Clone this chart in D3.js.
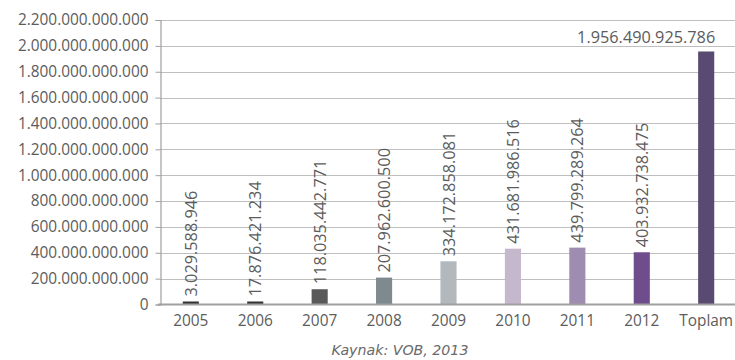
<!DOCTYPE html>
<html>
<head>
<meta charset="utf-8">
<script src="https://cdn.jsdelivr.net/npm/d3@7"></script>
<style>
  html, body { margin: 0; padding: 0; background: #ffffff; }
  svg { display: block; }
</style>
</head>
<body>
<svg id="chart" width="735" height="360"></svg>
<script>
// ---- data ----
const categories = ["2005", "2006", "2007", "2008", "2009", "2010", "2011", "2012", "Toplam"];
const values = [3029588946, 17876421234, 118035442771, 207962600500, 334172858081,
                431681986516, 439799289264, 403932738475, 1956490925786];
const barColors = ["#333333", "#333333", "#595959", "#7f8a8f", "#b2b8bb",
                   "#c6b8cc", "#9e8db1", "#6f4c8c", "#594a72"];
const yTicks = [0, 200e9, 400e9, 600e9, 800e9, 1000e9, 1200e9, 1400e9, 1600e9, 1800e9, 2000e9, 2200e9];
const sourceText = "Kaynak: VOB, 2013";

// ---- setup ----
const svg = d3.select("#chart");
const W = 735;
const font = "'Open Sans', sans-serif";
const textColor = "#5c5c5c";

const locale = d3.formatLocale({ decimal: ",", thousands: ".", grouping: [3], currency: ["", ""] });
const fmt = locale.format(",d");

const x = d3.scaleBand().domain(categories).range([158.6, 738.4]).paddingInner(0.75).paddingOuter(0.375);
const y = d3.scaleLinear().domain([0, 2200e9]).range([304.5, 20]);
const axisX = 160;

// gridlines
svg.append("g").selectAll("line").data(yTicks.filter(d => d > 0)).join("line")
  .attr("x1", axisX).attr("x2", W)
  .attr("y1", d => Math.round(y(d)) + 0.5).attr("y2", d => Math.round(y(d)) + 0.5)
  .attr("stroke", "#bfbfbf").attr("stroke-width", 1.2);

// y axis
const yAxis = d3.axisLeft(y).tickValues(yTicks).tickFormat(d => d === 0 ? "0" : fmt(d)).tickSize(5).tickPadding(7);
const gy = svg.append("g").attr("transform", `translate(${axisX + 0.5},0)`).call(yAxis);
gy.select(".domain").attr("stroke", "#a0a0a0").attr("stroke-width", 1.2);
gy.selectAll(".tick line").attr("stroke", "#a0a0a0");
gy.selectAll(".tick text").attr("fill", textColor).style("font-family", font).style("font-size", "15.4px");

// bars
svg.append("g").selectAll("rect").data(values).join("rect")
  .attr("x", (d, i) => x(categories[i]))
  .attr("width", x.bandwidth())
  .attr("y", d => Math.min(y(d), y(0) - 3))
  .attr("height", d => Math.max(y(0) - y(d), 3))
  .attr("fill", (d, i) => barColors[i]);

// x axis
const xAxis = d3.axisBottom(x).tickSize(0).tickPadding(11);
const gx = svg.append("g").attr("transform", `translate(0,${y(0)})`).call(xAxis);
gx.select(".domain").attr("stroke", "#a0a0a0").attr("stroke-width", 2)
  .attr("d", `M${axisX - 2},0H${W}`);
gx.selectAll(".tick text").attr("fill", textColor).style("font-family", font).style("font-size", "15.4px");

// value labels
const lbl = svg.append("g").style("font-family", font).style("font-size", "16.3px").attr("fill", textColor);
values.forEach((v, i) => {
  const cx = x(categories[i]) + x.bandwidth() / 2;
  const top = Math.min(y(v), y(0) - 3);
  if (categories[i] === "Toplam") {
    lbl.append("text")
      .attr("x", x(categories[i]) + x.bandwidth() + 1)
      .attr("y", top - 8)
      .attr("text-anchor", "end")
      .text(fmt(v));
  } else {
    lbl.append("text")
      .attr("transform", `translate(${cx},${top - 5}) rotate(-90)`)
      .attr("text-anchor", "start")
      .attr("dominant-baseline", "central")
      .text(fmt(v));
  }
});

// source
svg.append("text")
  .attr("x", 400).attr("y", 355)
  .attr("text-anchor", "middle")
  .attr("fill", "#6a6a6a")
  .style("font-family", "'DejaVu Sans', sans-serif")
  .style("font-style", "italic")
  .style("font-size", "14.2px")
  .text(sourceText);
</script>
</body>
</html>
